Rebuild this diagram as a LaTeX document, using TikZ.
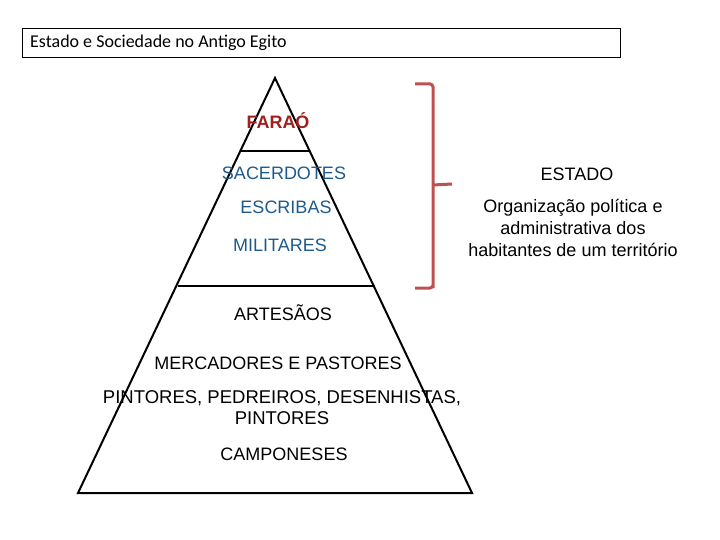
\documentclass[tikz,border=0pt]{standalone}
\usepackage{fontspec}
\setmainfont{Liberation Sans}
\newfontfamily\titlefont{Carlito}
\definecolor{brk}{RGB}{190,80,80}
\definecolor{blu}{RGB}{30,90,140}
\definecolor{red2}{RGB}{160,30,30}
\begin{document}
\begin{tikzpicture}[x=1pt,y=-1pt,
  lbl/.style={font=\fontsize{18}{20}\selectfont, inner sep=0pt},
  blul/.style={lbl, text=blu},
  edge/.style={line width=2pt}]
\useasboundingbox (0,0) rectangle (720,540);
\node[draw, line width=1.2pt, minimum width=598pt, minimum height=29pt, anchor=north west, inner sep=0pt] (title) at (22,28) {};
\node[anchor=west, inner sep=0pt, font=\titlefont\fontsize{18}{20}\selectfont] (tt) at (30,43) {Estado e Sociedade no Antigo Egito};
\coordinate (apex) at (275,78);
\coordinate (bl) at (78,493);
\coordinate (br) at (472,493);
\draw[edge, line join=miter] (bl) -- (apex) -- (br) -- cycle;
\coordinate (l1a) at (241,151); \coordinate (l1b) at (310,151);
\coordinate (l2a) at (178,286); \coordinate (l2b) at (375,286);
\draw[edge] (l1a) -- (l1b);
\draw[edge] (l2a) -- (l2b);
\node[lbl, text=red2, font=\bfseries\fontsize{18}{20}\selectfont] (farao) at (278,121) {FARAÓ};
\node[blul] (sac) at (284,173) {SACERDOTES};
\node[blul] (esc) at (286,207) {ESCRIBAS};
\node[blul] (mil) at (280,245) {MILITARES};
\node[lbl] (art) at (283,313) {ARTESÃOS};
\node[lbl] (mer) at (278,363) {MERCADORES E PASTORES};
\node[lbl, align=center, font=\fontsize{18.5}{21}\selectfont] (pin) at (282,408) {PINTORES, PEDREIROS, DESENHISTAS,\\PINTORES};
\node[lbl] (cam) at (284,454) {CAMPONESES};
\coordinate (b1) at (415,84); \coordinate (b2) at (433,87);
\coordinate (b3) at (433,285); \coordinate (b4) at (415,288);
\coordinate (bm) at (433,185); \coordinate (bt) at (452,184);
\draw[brk, line width=3pt, rounded corners=3pt] (b1) -- (433,84) -- (b3) -- (433,288) -- (b4);
\draw[brk, line width=3pt] (bm) -- (bt);
\node[lbl] (est) at (577,174) {ESTADO};
\node[lbl, align=center, font=\fontsize{18}{22}\selectfont] (org) at (573,228) {Organização política e\\administrativa dos\\habitantes de um território};
\end{tikzpicture}
\end{document}
